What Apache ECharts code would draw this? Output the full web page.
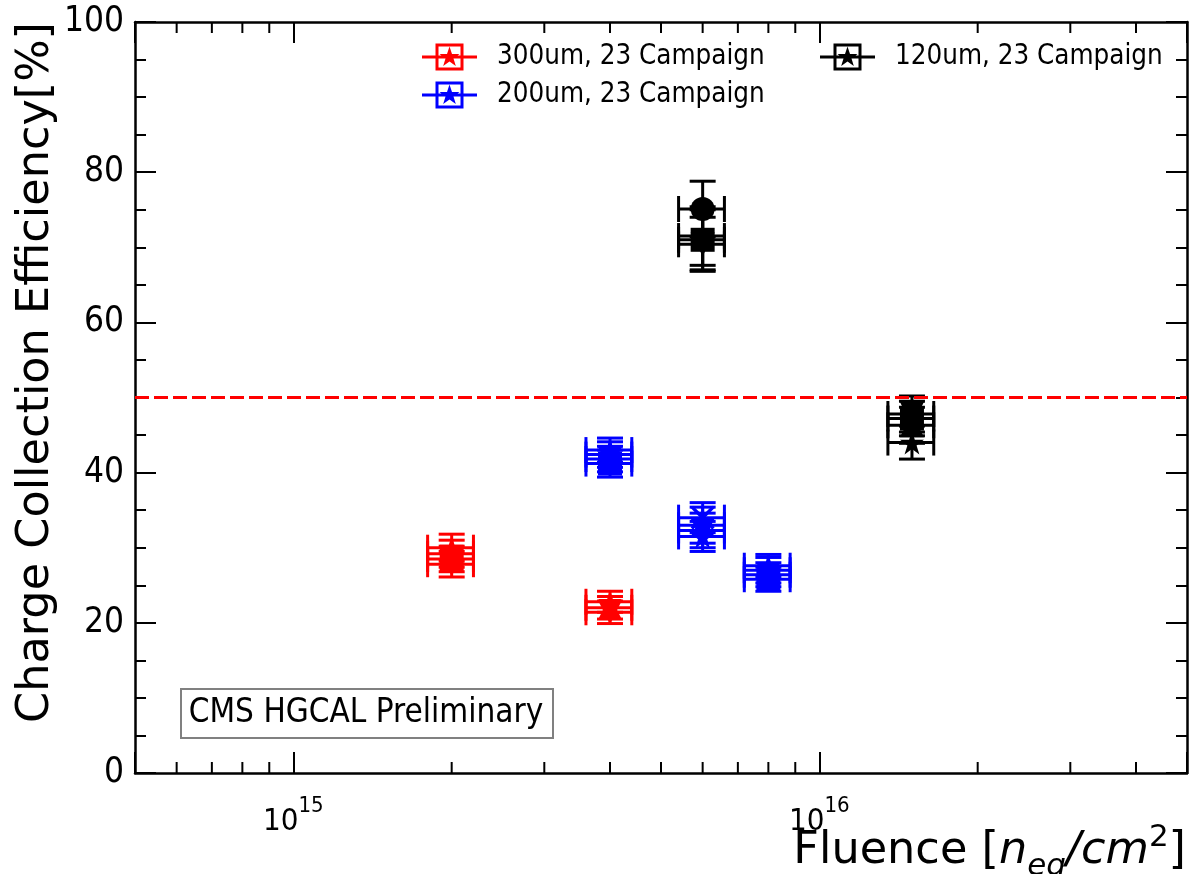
<!DOCTYPE html>
<html><head><meta charset="utf-8">
<script src="https://cdn.jsdelivr.net/npm/echarts@6/dist/echarts.min.js"></script>
<style>html,body{margin:0;padding:0;background:#fff}#c{width:1190px;height:874px}</style>
</head><body><div id="c"></div>
<script>
// ---------------- data ----------------
const seriesNames = ['300um, 23 Campaign', '200um, 23 Campaign', '120um, 23 Campaign'];

const fluence300    = [2e15, 2e15, 2e15, 2e15, 4e15, 4e15, 4e15];
const fluenceErr300 = [2e14, 2e14, 2e14, 2e14, 4e14, 4e14, 4e14];
const cce300        = [30.0, 29.2, 28.5, 27.8, 22.8, 22.0, 21.4];
const cceErr300     = [1.8, 1.8, 1.7, 1.7, 1.4, 1.5, 1.5];
const markers300    = ['star', 'triangle', 'square', 'tridown', 'star', 'triangle', 'tridown'];

const fluence200    = [4e15, 4e15, 4e15, 4e15, 6e15, 6e15, 6e15, 6e15, 8e15, 8e15, 8e15, 8e15];
const fluenceErr200 = [4e14, 4e14, 4e14, 4e14, 6e14, 6e14, 6e14, 6e14, 8e14, 8e14, 8e14, 8e14];
const cce200        = [43.0, 42.4, 41.8, 41.2, 34.0, 33.0, 32.3, 31.5, 27.6, 27.0, 26.4, 25.8];
const cceErr200     = [1.6, 1.7, 1.7, 1.8, 2.0, 2.4, 2.3, 2.0, 1.5, 1.7, 1.6, 1.6];
const markers200    = ['star', 'triangle', 'tridown', 'square', 'x', 'triangle', 'tridown', 'star', 'star', 'triangle', 'tridown', 'square'];

const fluence120    = [6e15, 6e15, 6e15, 6e15, 1.5e16, 1.5e16, 1.5e16, 1.5e16];
const fluenceErr120 = [6e14, 6e14, 6e14, 6e14, 1.5e15, 1.5e15, 1.5e15, 1.5e15];
const cce120        = [75.1, 71.5, 71.0, 70.4, 47.8, 47.2, 46.3, 44.0];
const cceErr120     = [3.7, 3.9, 4.0, 3.6, 2.4, 2.3, 2.4, 2.2];
const markers120    = ['circle', 'star', 'square', 'tridown', 'tridown', 'square', 'triangle', 'star'];

const thresholdCCE = 50;
const xMinorTicks = [6e14, 7e14, 8e14, 9e14, 2e15, 3e15, 4e15, 5e15, 6e15, 7e15, 8e15, 9e15, 2e16, 3e16, 4e16];
const yTickInterval = 20;

// ---------------- styling ----------------
const FONT = '"DejaVu Sans Condensed", "DejaVu Sans", sans-serif';
const TITLE_FONT = '"DejaVu Sans", sans-serif';
const colors = ['#ff0000', '#0000ff', '#000000'];

function starPath() {
  const pts = [];
  for (let i = 0; i < 10; i++) {
    const r = i % 2 ? 0.382 : 1;
    const a = -Math.PI / 2 + i * Math.PI / 5;
    pts.push((Math.cos(a) * r).toFixed(4) + ',' + (Math.sin(a) * r).toFixed(4));
  }
  return 'path://M' + pts.join(' L') + ' Z';
}
const symbolMap = {
  star: starPath(),
  triangle: 'triangle',
  tridown: 'path://M0,0 L2,0 L1,1.8 Z',
  circle: 'circle',
  square: 'rect',
  x: 'path://M0,0.2 L0.2,0 L1,0.8 L1.8,0 L2,0.2 L1.2,1 L2,1.8 L1.8,2 L1,1.2 L0.2,2 L0,1.8 L0.8,1 Z'
};
const legendIcon = 'path://M0,12 L55,12 L55,15 L0,15 Z M13.5,0 L41.5,0 L41.5,27 L13.5,27 Z M16.5,3 L16.5,24 L38.5,24 L38.5,3 Z M27.5,3 L30,10.5 L37.5,10.5 L31.5,15 L33.8,22.5 L27.5,18 L21.2,22.5 L23.5,15 L17.5,10.5 L25,10.5 Z';

const groups = [
  [fluence300, fluenceErr300, cce300, cceErr300, markers300],
  [fluence200, fluenceErr200, cce200, cceErr200, markers200],
  [fluence120, fluenceErr120, cce120, cceErr120, markers120]
];

const CAP = 13, LW = 3;
function errRender(params, api) {
  const x = api.value(0), xe = api.value(1), y = api.value(2), ye = api.value(3);
  const c = api.coord([x, y]);
  const t = api.coord([x, y + ye]);
  const b = api.coord([x, y - ye]);
  const l = api.coord([x - xe, y]);
  const r = api.coord([x + xe, y]);
  const color = api.visual('color');
  const st = { stroke: color, lineWidth: LW };
  const ln = (x1, y1, x2, y2) => ({ type: 'line', shape: { x1, y1, x2, y2 }, style: st });
  return {
    type: 'group',
    children: [
      ln(c[0], t[1], c[0], b[1]),
      ln(c[0] - CAP, t[1], c[0] + CAP, t[1]),
      ln(c[0] - CAP, b[1], c[0] + CAP, b[1]),
      ln(l[0], c[1], r[0], c[1]),
      ln(l[0], c[1] - CAP, l[0], c[1] + CAP),
      ln(r[0], c[1] - CAP, r[0], c[1] + CAP)
    ]
  };
}

const series = [];
groups.forEach((g, i) => {
  const [fx, fxe, cy, cye, mk] = g;
  series.push({
    name: seriesNames[i],
    type: 'custom',
    renderItem: errRender,
    itemStyle: { color: colors[i] },
    data: fx.map((v, k) => [v, fxe[k], cy[k], cye[k]]),
    encode: { x: 0, y: 2 },
    z: 3,
    silent: true
  });
  series.push({
    name: seriesNames[i],
    type: 'scatter',
    itemStyle: { color: colors[i], opacity: 1 },
    symbolSize: 24,
    data: fx.map((v, k) => ({ value: [v, cy[k]], symbol: symbolMap[mk[k]] })),
    z: 4,
    silent: true
  });
});

// 50% threshold line
series.push({
  type: 'line',
  data: [],
  silent: true,
  markLine: {
    silent: true,
    symbol: 'none',
    label: { show: false },
    lineStyle: { color: '#ff0000', width: 3, type: [14, 5] },
    data: [{ yAxis: thresholdCCE }]
  },
  z: 2
});

// minor ticks of the log axis (bottom and top)
series.push({
  type: 'custom',
  silent: true,
  data: xMinorTicks.map(v => [v, 0]),
  renderItem: (params, api) => {
    const v = api.value(0);
    const b = api.coord([v, 0]);
    const t = api.coord([v, 100]);
    const st = { stroke: '#000', lineWidth: 2 };
    return {
      type: 'group',
      children: [
        { type: 'line', shape: { x1: b[0], y1: b[1], x2: b[0], y2: b[1] - 11 }, style: st },
        { type: 'line', shape: { x1: t[0], y1: t[1], x2: t[0], y2: t[1] + 11 }, style: st }
      ]
    };
  },
  z: 10
});

const xLabelFmt = (v) => {
  const e = Math.log10(v);
  if (Math.abs(e - Math.round(e)) < 1e-6) return '{b|10}{s|' + Math.round(e) + '}';
  return '';
};

const axisLineStyle = { show: true, onZero: false, lineStyle: { color: '#000', width: 2.5 } };
const majorTick = { show: true, inside: true, length: 21, lineStyle: { color: '#000', width: 2 } };
const legendText = { fontSize: 27.5, fontFamily: FONT, color: '#000', padding: [0, 0, 0, 15] };

const option = {
  backgroundColor: '#ffffff',
  animation: false,
  grid: { left: 135, right: 0, top: 22, bottom: 101 },
  xAxis: [
    {
      type: 'log', logBase: 10, min: 5e14, max: 5e16, position: 'bottom',
      axisLine: axisLineStyle,
      axisTick: majorTick,
      minorTick: { show: false },
      splitLine: { show: false },
      axisLabel: {
        formatter: xLabelFmt, margin: 22, color: '#000',
        rich: {
          b: { fontSize: 31, fontFamily: FONT, color: '#000', verticalAlign: 'bottom', lineHeight: 42 },
          s: { fontSize: 22, fontFamily: FONT, color: '#000', verticalAlign: 'top' }
        }
      }
    },
    {
      type: 'log', logBase: 10, min: 5e14, max: 5e16, position: 'top',
      axisLine: axisLineStyle,
      axisTick: majorTick,
      axisLabel: { show: false },
      splitLine: { show: false }
    }
  ],
  yAxis: [
    {
      type: 'value', min: 0, max: 100, interval: yTickInterval, position: 'left',
      axisLine: axisLineStyle,
      axisTick: majorTick,
      minorTick: { show: true, splitNumber: 4, length: 11, lineStyle: { color: '#000', width: 2 } },
      splitLine: { show: false },
      axisLabel: { fontSize: 35, fontFamily: FONT, color: '#000', margin: 11 }
    },
    {
      type: 'value', min: 0, max: 100, interval: yTickInterval, position: 'right',
      axisLine: axisLineStyle,
      axisTick: majorTick,
      minorTick: { show: true, splitNumber: 4, length: 11, lineStyle: { color: '#000', width: 2 } },
      splitLine: { show: false },
      axisLabel: { show: false }
    }
  ],
  legend: [
    {
      orient: 'vertical', left: 422, top: 43, padding: 0, itemWidth: 55, itemHeight: 27, itemGap: 10,
      selectedMode: false,
      textStyle: legendText,
      data: [{ name: seriesNames[0], icon: legendIcon }, { name: seriesNames[1], icon: legendIcon }]
    },
    {
      orient: 'vertical', left: 820, top: 43, padding: 0, itemWidth: 55, itemHeight: 27, itemGap: 10,
      selectedMode: false,
      textStyle: legendText,
      data: [{ name: seriesNames[2], icon: legendIcon }]
    }
  ],
  graphic: [
    {
      type: 'rect', left: 180, top: 688, z: 20,
      shape: { width: 372, height: 49 },
      style: { fill: '#fff', stroke: '#808080', lineWidth: 2 }
    },
    {
      type: 'text', x: 366, y: 713, z: 21,
      style: { text: 'CMS HGCAL Preliminary', fontSize: 33, fontFamily: FONT, fill: '#000', align: 'center', verticalAlign: 'middle' }
    },
    {
      type: 'text', x: 36, y: 22, rotation: Math.PI / 2, z: 21,
      style: { text: 'Charge Collection Efficiency[%]', fontSize: 44.6, fontFamily: TITLE_FONT, fill: '#000', align: 'right', verticalAlign: 'middle' }
    },
    {
      type: 'text', x: 1186, y: 852, z: 21,
      style: {
        text: '{b|Fluence [}{i|n}{sub|eq}{i|/cm}{sup|2}{b|]}',
        align: 'right', verticalAlign: 'middle',
        rich: {
          b: { fontSize: 44.6, fontFamily: TITLE_FONT, fill: '#000', verticalAlign: 'bottom', padding: [0, 0, 8, 0], lineHeight: 60 },
          i: { fontSize: 44.6, fontFamily: TITLE_FONT, fontStyle: 'italic', fill: '#000', verticalAlign: 'bottom', padding: [0, 0, 8, 0] },
          sub: { fontSize: 31, fontFamily: TITLE_FONT, fontStyle: 'italic', fill: '#000', verticalAlign: 'bottom' },
          sup: { fontSize: 31, fontFamily: TITLE_FONT, fill: '#000', verticalAlign: 'top' }
        }
      }
    }
  ],
  series
};

const chart = echarts.init(document.getElementById('c'), null, { renderer: 'canvas' });
chart.setOption(option);
</script>
</body></html>
